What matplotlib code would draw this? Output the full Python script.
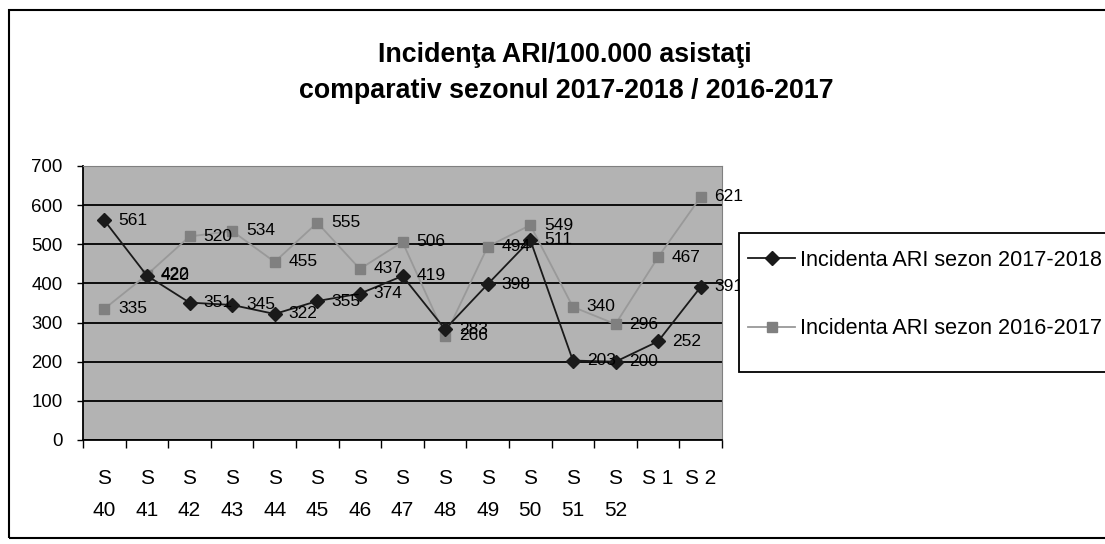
import numpy as np
import matplotlib
matplotlib.use("Agg")
import matplotlib.pyplot as plt
from matplotlib.patches import Rectangle

plt.rcParams['font.family'] = ['Liberation Sans', 'DejaVu Sans']

# date
saptamani = ["S\n40", "S\n41", "S\n42", "S\n43", "S\n44", "S\n45", "S\n46", "S\n47",
             "S\n48", "S\n49", "S\n50", "S\n51", "S\n52", "S 1", "S 2"]
sezon_2017_2018 = [561, 420, 351, 345, 322, 355, 374, 419, 283, 398, 511, 203, 200, 252, 391]
sezon_2016_2017 = [335, 422, 520, 534, 455, 555, 437, 506, 266, 494, 549, 340, 296, 467, 621]
eticheta_1 = "Incidenta ARI sezon 2017-2018"
eticheta_2 = "Incidenta ARI sezon 2016-2017"

W, H = 1105, 544
fig = plt.figure(figsize=(W / 100, H / 100), dpi=100)
ax = fig.add_axes([83 / W, 1 - 440 / H, (722 - 83) / W, (440 - 166) / H])
ax.set_facecolor("#b3b3b3")

x = np.arange(len(saptamani))
ax.plot(x, sezon_2017_2018, color="#1a1a1a", lw=1.3, marker="D", ms=7,
        mfc="#1a1a1a", mec="#1a1a1a", label=eticheta_1, zorder=4)
ax.plot(x, sezon_2016_2017, color="#999999", lw=1.3, marker="s", ms=7,
        mfc="#808080", mec="#808080", label=eticheta_2, zorder=3)

for xi, v in zip(x, sezon_2017_2018):
    ax.annotate(str(v), (xi, v), xytext=(10, 0), textcoords="offset points",
                va="center", ha="left", fontsize=12.5, annotation_clip=False, zorder=5)
for xi, v in zip(x, sezon_2016_2017):
    ax.annotate(str(v), (xi, v), xytext=(10, 0), textcoords="offset points",
                va="center", ha="left", fontsize=12.5, annotation_clip=False, zorder=5)

ax.set_xlim(-0.5, len(saptamani) - 0.5)
ax.set_ylim(0, 700)
ax.set_yticks(np.arange(0, 701, 100))
ax.yaxis.grid(True, color="black", lw=1.3)
ax.set_axisbelow(True)
ax.tick_params(axis="y", labelsize=13.4, length=4.5, width=1, direction="out", pad=10)

ax.set_xticks(x)
ax.set_xticklabels(saptamani, va="top", linespacing=1.85)
ax.set_xticks(np.arange(-0.5, len(saptamani), 1), minor=True)
ax.tick_params(axis="x", which="major", length=0, labelsize=15, pad=21)
ax.tick_params(axis="x", which="minor", length=6, width=1, direction="out")

for s in ["top", "right"]:
    ax.spines[s].set_color("#808080")
ax.spines["left"].set_linewidth(1.3)
ax.spines["bottom"].set_linewidth(1.3)

fig.text(565 / W, 1 - 62 / H, "Incidenţa ARI/100.000 asistaţi", ha="center", va="baseline",
         fontsize=19.3, fontweight="bold")
fig.text(566 / W, 1 - 98 / H, "comparativ sezonul 2017-2018 / 2016-2017", ha="center",
         va="baseline", fontsize=19.3, fontweight="bold")

# chenarul legendei
fig.patches.append(Rectangle((739 / W, 1 - 372 / H), 0.5, (372 - 233) / H,
                             transform=fig.transFigure, facecolor="white",
                             edgecolor="black", lw=1.3, zorder=4))
leg = fig.legend(loc="upper left", bbox_to_anchor=(748 / W, 1 - 250 / H), borderaxespad=0,
                 fontsize=15.6, frameon=False, borderpad=0,
                 handlelength=2.17, handletextpad=0.23, labelspacing=2.18)
leg.set_zorder(6)

fig.patches.append(Rectangle((9 / W, 1 - 538 / H), 1.2, (538 - 10) / H, transform=fig.transFigure,
                             fill=False, edgecolor="black", lw=1.5))

plt.savefig("out.png", dpi=100)
